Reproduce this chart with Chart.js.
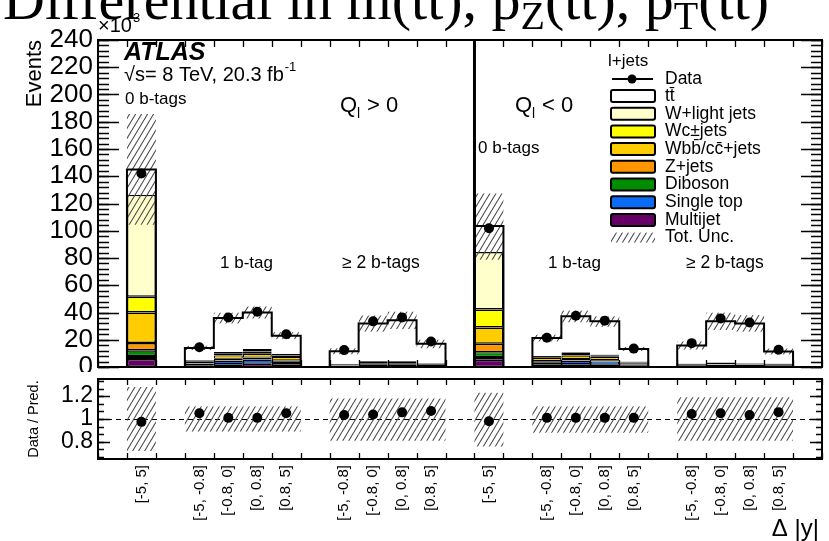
<!DOCTYPE html>
<html>
<head>
<meta charset="utf-8">
<script src="https://cdn.jsdelivr.net/npm/chart.js@4.4.1/dist/chart.umd.min.js"></script>
<style>
  body { margin: 0; background: #fff; width: 829px; height: 541px; overflow: hidden; position: relative; }
  canvas { position: absolute; left: 0; }
  #main { top: 0; }
  #ratio { top: 372px; }
</style>
</head>
<body>
<canvas id="main" width="829" height="372"></canvas>
<canvas id="ratio" width="829" height="169"></canvas>
<script>
// bins along the x axis ('' = empty spacer bin)
const binLabels = ['', '[-5, 5]', '', '[-5, -0.8]', '[-0.8, 0]', '[0, 0.8]', '[0.8, 5]', '',
  '[-5, -0.8]', '[-0.8, 0]', '[0, 0.8]', '[0.8, 5]', '',
  '[-5, 5]', '', '[-5, -0.8]', '[-0.8, 0]', '[0, 0.8]', '[0.8, 5]', '',
  '[-5, -0.8]', '[-0.8, 0]', '[0, 0.8]', '[0.8, 5]', ''];

// predicted events (x10^3), bottom of the stack first
const multijet  = [null, 5.8, null, 1.2, 2.0, 2.4, 2.0, null, 0.3, 0.6, 0.6, 0.4, null, 5.3, null, 2.0, 2.0, 1.6, 1.0, null, 0.3, 0.5, 0.4, 0.3, null];
const singleTop = [null, 2.2, null, 1.2, 2.5, 2.8, 1.6, null, 0.8, 1.5, 1.5, 1.0, null, 2.0, null, 1.5, 2.5, 2.5, 0.8, null, 0.9, 1.2, 1.1, 0.9, null];
const diboson   = [null, 4.3, null, 0.1, 0.3, 0.3, 0.2, null, 0.05, 0.1, 0.1, 0.05, null, 3.6, null, 0.2, 0.3, 0.2, 0.1, null, 0.05, 0.1, 0.1, 0.05, null];
const zJets     = [null, 5.4, null, 0.4, 1.2, 1.4, 1.0, null, 0.1, 0.2, 0.2, 0.15, null, 6.1, null, 0.6, 1.0, 0.7, 0.4, null, 0.15, 0.2, 0.15, 0.15, null];
const wbbJets   = [null, 22.3, null, 1.0, 2.5, 2.8, 2.6, null, 0.7, 1.2, 1.2, 0.8, null, 12.0, null, 2.5, 2.6, 2.5, 1.0, null, 0.7, 1.0, 0.8, 0.7, null];
const wcJets    = [null, 11.6, null, 0.5, 1.2, 1.6, 1.1, null, 0.15, 0.3, 0.3, 0.2, null, 13.2, null, 0.6, 1.2, 0.8, 0.4, null, 0.15, 0.2, 0.15, 0.15, null];
const wLight    = [null, 74.9, null, 0.6, 1.3, 1.9, 1.2, null, 0.3, 0.5, 0.5, 0.4, null, 42.2, null, 0.6, 1.3, 0.9, 0.4, null, 0.25, 0.3, 0.3, 0.25, null];
const ttbar     = [null, 18.5, null, 9.0, 24.9, 26.8, 13.3, null, 9.2, 27.6, 30.0, 14.0, null, 19.1, null, 13.3, 26.4, 24.3, 9.2, null, 13.3, 30.0, 29.0, 8.9, null];

// observed events (x10^3)
const dataEvents = [null, 142, null, 14.5, 36.3, 40.6, 24.0, null, 12.4, 33.5, 36.4, 18.7, null, 101.8, null, 21.5, 37.6, 34.0, 13.5, null, 17.5, 35.6, 32.7, 12.6, null];

// data / prediction and total uncertainty band
const ratioValues = [null, 0.975, null, 1.05, 1.01, 1.01, 1.05, null, 1.035, 1.04, 1.058, 1.07, null, 0.98, null, 1.01, 1.01, 1.01, 1.01, null, 1.043, 1.05, 1.035, 1.06, null];
const uncLow  = [null, 0.72, null, 0.89, 0.89, 0.89, 0.89, null, 0.81, 0.81, 0.81, 0.81, null, 0.76, null, 0.88, 0.88, 0.88, 0.88, null, 0.81, 0.81, 0.81, 0.81, null];
const uncHigh = [null, 1.28, null, 1.11, 1.11, 1.11, 1.11, null, 1.18, 1.18, 1.18, 1.18, null, 1.23, null, 1.11, 1.11, 1.11, 1.11, null, 1.19, 1.19, 1.19, 1.19, null];

const yTicks = [0, 20, 40, 60, 80, 100, 120, 140, 160, 180, 200, 220, 240];
const ratioTicks = [0.8, 1, 1.2];

const stackOrder = [
  { label: 'Multijet', values: multijet, color: '#660066' },
  { label: 'Single top', values: singleTop, color: '#0a6cf5' },
  { label: 'Diboson', values: diboson, color: '#008c00' },
  { label: 'Z+jets', values: zJets, color: '#ff9600' },
  { label: 'Wbb\u0304/cc\u0304+jets', values: wbbJets, color: '#ffcc00' },
  { label: 'Wc\u00b1jets', values: wcJets, color: '#ffff00' },
  { label: 'W+light jets', values: wLight, color: '#ffffcc' },
  { label: 'tt\u0304', values: ttbar, color: '#ffffff' }
];

const SANS = '"Liberation Sans", Arial, sans-serif';

function hatch(w, h) {
  const c = document.createElement('canvas');
  c.width = w; c.height = h;
  const g = c.getContext('2d');
  g.strokeStyle = '#4a4a4a';
  g.lineWidth = 1.1;
  for (const dx of [-w, 0, w]) {
    g.beginPath(); g.moveTo(dx, h); g.lineTo(dx + w, 0); g.stroke();
  }
  return g.createPattern(c, 'repeat');
}
const hatchFill = hatch(6, 10);

// outline width of a stack segment: thin slices end up as black strokes
function segBorder(ctx) {
  const r = ctx.raw;
  if (!r) return 0;
  const h = r[1] - r[0];
  if (h < 2.4) return 2;
  return h < 4 ? 1.2 : 1.5;
}

// build floating stack segments
const running = binLabels.map(() => 0);
const stackSets = stackOrder.map((c, k) => {
  const seg = c.values.map((v, i) => {
    if (v == null) return null;
    const lo = running[i];
    running[i] += v;
    return [lo, running[i]];
  });
  const isTop = k === stackOrder.length - 1;
  return {
    type: 'bar', label: c.label, data: seg,
    backgroundColor: c.color, borderColor: '#000',
    borderWidth: isTop ? 0 : segBorder, borderSkipped: false, inflateAmount: 0,
    grouped: false, barPercentage: 1, categoryPercentage: 1,
    order: 20 - k
  };
});
const totals = running.slice();
const totalBand = totals.map((t, i) => uncLow[i] == null ? null : [t * uncLow[i], t * uncHigh[i]]);

function label(ctx, s, x, y, font, align, base) {
  ctx.font = font;
  ctx.textAlign = align || 'left';
  ctx.textBaseline = base || 'alphabetic';
  ctx.fillStyle = '#000';
  ctx.fillText(s, x, y);
  return x + ctx.measureText(s).width;
}

function binEdge(xs, i) { return xs.getPixelForValue(i - 0.5); }

function drawYTicks(ctx, area, ys, from, to, step, len) {
  for (let v = from; v <= to + 1e-9; v += step) {
    const y = Math.round(ys.getPixelForValue(v)) + 0.5;
    ctx.beginPath();
    ctx.moveTo(area.left, y); ctx.lineTo(area.left + len, y);
    ctx.moveTo(area.right, y); ctx.lineTo(area.right - len, y);
    ctx.stroke();
  }
}

function drawXTicks(ctx, area, xs, len) {
  for (let i = 0; i <= binLabels.length; i++) {
    const x = Math.round(binEdge(xs, i)) + 0.5;
    ctx.beginPath();
    ctx.moveTo(x, area.top); ctx.lineTo(x, area.top + len);
    ctx.moveTo(x, area.bottom); ctx.lineTo(x, area.bottom - len);
    ctx.stroke();
  }
}

const mainDecor = {
  id: 'mainDecor',
  afterDatasetsDraw(chart) {
    const { ctx, chartArea: a, scales: { x, y } } = chart;
    ctx.save();
    ctx.strokeStyle = '#000';
    ctx.lineWidth = 1.3;
    drawYTicks(ctx, a, y, 0, 240, 4, 11);
    drawYTicks(ctx, a, y, 0, 240, 20, 21);
    drawXTicks(ctx, a, x, 7);
    // Q>0 / Q<0 divider
    ctx.lineWidth = 3;
    const xd = binEdge(x, 13);
    ctx.beginPath(); ctx.moveTo(xd, a.top); ctx.lineTo(xd, a.bottom); ctx.stroke();
    ctx.lineWidth = 2;
    ctx.strokeRect(a.left, a.top, a.right - a.left, a.bottom - a.top);
    ctx.restore();
  },
  afterDraw(chart) {
    const { ctx, chartArea: a, scales: { y } } = chart;
    ctx.save();
    // title (cut at the top edge)
    let tx = 3;
    const parts = [['Differential in m(tt\u0304), p', 0], ['Z', 1], ['(tt\u0304), p', 0], ['T', 1], ['(tt\u0304)', 0]];
    for (const [s, sub] of parts) {
      tx = label(ctx, s, tx, sub ? 29 : 19, sub ? '40px "Liberation Serif", serif' : '58px "Liberation Serif", serif');
    }
    // y tick labels
    for (const v of yTicks) label(ctx, String(v), 93, y.getPixelForValue(v), '26px ' + SANS, 'right', 'middle');
    const xe = label(ctx, '\u00d710', 98, 32, '20px ' + SANS);
    label(ctx, '3', xe + 1, 22, '13px ' + SANS);
    ctx.save();
    ctx.translate(41, a.top);
    ctx.rotate(-Math.PI / 2);
    label(ctx, 'Events', 0, 0, '22px ' + SANS, 'right', 'alphabetic');
    ctx.restore();
    // annotations
    label(ctx, 'ATLAS', 124, 60, 'bold italic 25px ' + SANS);
    const xs = label(ctx, '\u221as= 8 TeV, 20.3 fb', 124, 81, '20px ' + SANS);
    label(ctx, '-1', xs + 1, 71, '13px ' + SANS);
    label(ctx, '0 b-tags', 125, 104, '17px ' + SANS);
    label(ctx, '0 b-tags', 478, 153, '17px ' + SANS);
    label(ctx, '1 b-tag', 220, 268, '17px ' + SANS);
    label(ctx, '1 b-tag', 548, 268, '17px ' + SANS);
    label(ctx, '\u2265 2 b-tags', 342, 268, '17.5px ' + SANS);
    label(ctx, '\u2265 2 b-tags', 686, 268, '17.5px ' + SANS);
    label(ctx, 'Q', 340, 112, '22px ' + SANS);
    label(ctx, 'l', 357, 118, '14px ' + SANS);
    label(ctx, '> 0', 367, 112, '22px ' + SANS);
    label(ctx, 'Q', 515, 112, '22px ' + SANS);
    label(ctx, 'l', 532, 118, '14px ' + SANS);
    label(ctx, '< 0', 542, 112, '22px ' + SANS);
    // legend
    label(ctx, 'l+jets', 608, 66, '17px ' + SANS);
    ctx.strokeStyle = '#000'; ctx.lineWidth = 2;
    ctx.beginPath(); ctx.moveTo(612, 79); ctx.lineTo(653, 79); ctx.stroke();
    ctx.beginPath(); ctx.arc(632, 79, 4.5, 0, Math.PI * 2); ctx.fillStyle = '#000'; ctx.fill();
    label(ctx, 'Data', 665, 79, '17.5px ' + SANS, 'left', 'middle');
    const rows = stackOrder.slice().reverse();
    rows.forEach((c, k) => {
      const yc = 96 + k * 17.7;
      ctx.fillStyle = c.color;
      ctx.beginPath(); ctx.roundRect(611, yc - 6, 44, 12, 2); ctx.fill();
      ctx.lineWidth = 2; ctx.strokeStyle = '#000'; ctx.stroke();
      label(ctx, c.label, 665, yc, '17.5px ' + SANS, 'left', 'middle');
    });
    const yu = 96 + rows.length * 17.7;
    ctx.fillStyle = hatchFill;
    ctx.fillRect(611, yu - 5, 44, 10);
    label(ctx, 'Tot. Unc.', 665, yu, '17.5px ' + SANS, 'left', 'middle');
    ctx.restore();
  }
};

new Chart(document.getElementById('main'), {
  type: 'bar',
  data: {
    labels: binLabels,
    datasets: [
      {
        type: 'line', label: 'Data', data: dataEvents, showLine: false,
        pointRadius: 5, pointBackgroundColor: '#000', pointBorderWidth: 0, order: 0
      },
      {
        type: 'line', label: 'Total', data: totals, stepped: 'middle',
        borderColor: '#000', borderWidth: 2, pointRadius: 0, fill: false, order: 1
      },
      {
        type: 'bar', label: 'Tot. Unc.', data: totalBand, backgroundColor: hatchFill,
        borderWidth: 0, inflateAmount: 0, grouped: false, barPercentage: 1, categoryPercentage: 1, order: 2
      },
      ...stackSets
    ]
  },
  options: {
    responsive: false, animation: false, events: [],
    layout: { padding: { left: 98, right: 7, top: 40, bottom: 2 } },
    plugins: { legend: { display: false }, tooltip: { enabled: false } },
    scales: {
      x: { type: 'category', display: false, offset: true },
      y: { display: false, min: 0, max: 240 }
    }
  },
  plugins: [mainDecor]
});

const ratioDecor = {
  id: 'ratioDecor',
  beforeDatasetsDraw(chart) {
    const { ctx, chartArea: a, scales: { y } } = chart;
    ctx.save();
    ctx.strokeStyle = '#000'; ctx.lineWidth = 1;
    ctx.setLineDash([5, 4]);
    const y1 = Math.round(y.getPixelForValue(1)) + 0.5;
    ctx.beginPath(); ctx.moveTo(a.left, y1); ctx.lineTo(a.right, y1); ctx.stroke();
    ctx.restore();
  },
  afterDatasetsDraw(chart) {
    const { ctx, chartArea: a, scales: { x, y } } = chart;
    ctx.save();
    ctx.strokeStyle = '#000'; ctx.lineWidth = 1.3;
    drawYTicks(ctx, a, y, 0.6 + 0.2 / 3, 1.34, 0.2 / 3, 6);
    drawYTicks(ctx, a, y, 0.8, 1.2, 0.2, 12);
    drawXTicks(ctx, a, x, 6);
    ctx.lineWidth = 2;
    ctx.strokeRect(a.left, a.top, a.right - a.left, a.bottom - a.top);
    ctx.restore();
  },
  afterDraw(chart) {
    const { ctx, chartArea: a, scales: { x, y } } = chart;
    ctx.save();
    for (const v of ratioTicks) label(ctx, String(v), 93, y.getPixelForValue(v), '23px ' + SANS, 'right', 'middle');
    ctx.save();
    ctx.translate(38, (a.top + a.bottom) / 2);
    ctx.rotate(-Math.PI / 2);
    label(ctx, 'Data / Pred.', 0, 0, '14.5px ' + SANS, 'center', 'alphabetic');
    ctx.restore();
    binLabels.forEach((s, i) => {
      if (!s) return;
      ctx.save();
      ctx.translate(x.getPixelForValue(i), a.bottom + 6);
      ctx.rotate(-Math.PI / 2);
      label(ctx, s, 0, 0, '15px ' + SANS, 'right', 'middle');
      ctx.restore();
    });
    label(ctx, '\u0394 |y|', 819, 164, '24px ' + SANS, 'right', 'alphabetic');
    ctx.restore();
  }
};

new Chart(document.getElementById('ratio'), {
  type: 'bar',
  data: {
    labels: binLabels,
    datasets: [
      {
        type: 'line', label: 'Data / Pred.', data: ratioValues, showLine: false,
        pointRadius: 5, pointBackgroundColor: '#000', pointBorderWidth: 0, order: 0
      },
      {
        type: 'bar', label: 'Tot. Unc.', data: uncLow.map((l, i) => l == null ? null : [l, uncHigh[i]]),
        backgroundColor: hatchFill, borderWidth: 0, inflateAmount: 0, grouped: false,
        barPercentage: 1, categoryPercentage: 1, order: 1
      }
    ]
  },
  options: {
    responsive: false, animation: false, events: [],
    layout: { padding: { left: 98, right: 7, top: 7, bottom: 82 } },
    plugins: { legend: { display: false }, tooltip: { enabled: false } },
    scales: {
      x: { type: 'category', display: false, offset: true },
      y: { display: false, min: 0.65, max: 1.35 }
    }
  },
  plugins: [ratioDecor]
});
</script>
</body>
</html>
